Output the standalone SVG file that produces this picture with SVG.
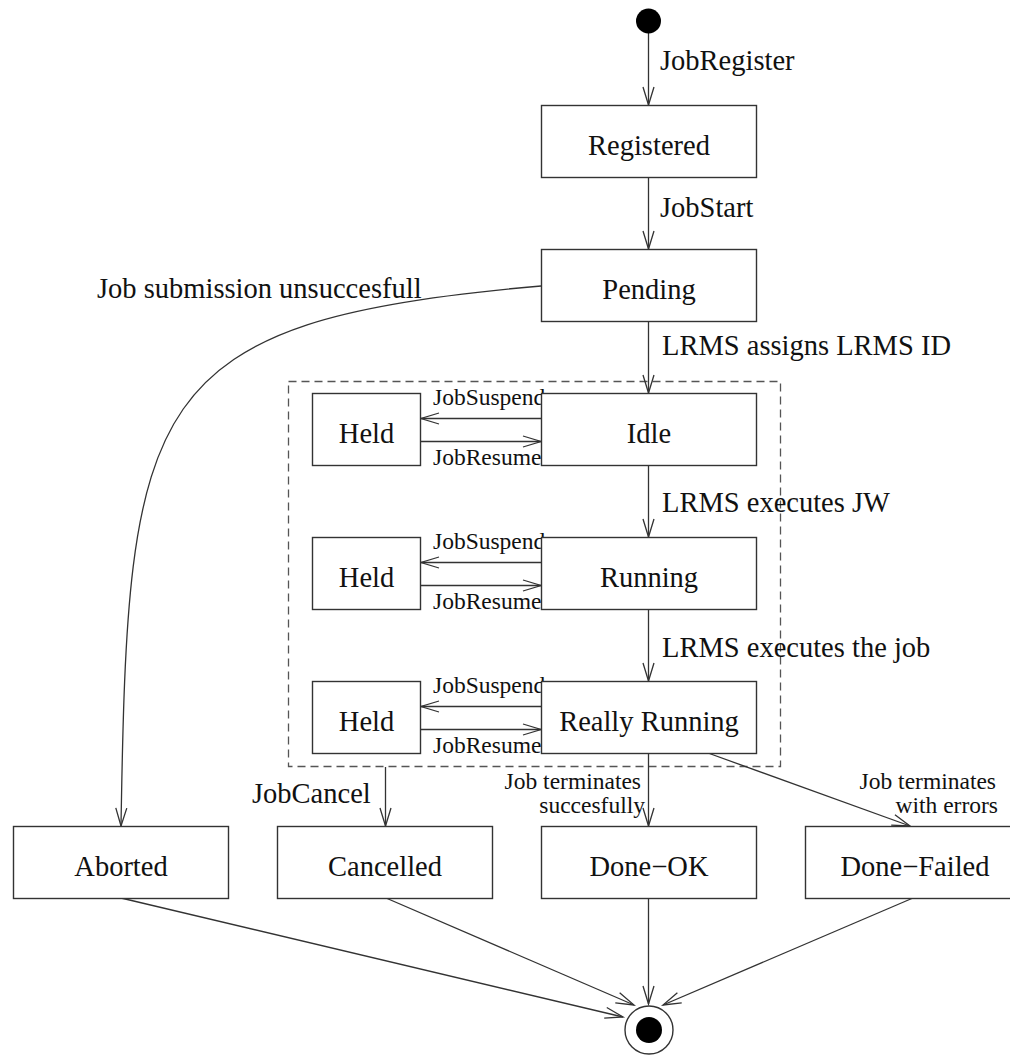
<svg xmlns="http://www.w3.org/2000/svg" width="1010" height="1055" viewBox="0 0 1010 1055">
<style>
  .box { fill: #fff; stroke: #333; stroke-width: 1.4; }
  .lbl { font-family: "Liberation Serif", "Times New Roman", serif; font-size: 28.5px; fill: #111; }
  .sm { font-family: "Liberation Serif", "Times New Roman", serif; font-size: 23.5px; fill: #111; }
  .mid { text-anchor: middle; }
  .end { text-anchor: end; }
  .edge { fill: none; stroke: #333; stroke-width: 1.3; marker-end: url(#arr); }
  .frame { fill: none; stroke: #555; stroke-width: 1.3; stroke-dasharray: 8 5; }
</style>
<defs>
  <marker id="arr" markerUnits="userSpaceOnUse" markerWidth="22" markerHeight="16" refX="19" refY="7" orient="auto">
    <path d="M1,1.5 L19,7 L1,12.5" fill="none" stroke="#333" stroke-width="1.3"/>
  </marker>
</defs>
<rect width="1010" height="1055" fill="#fff"/>

<g id="frame">
  <rect class="frame" x="288.5" y="381.5" width="492" height="385"/>
</g>

<g id="connectors">
  <line class="edge" x1="648.5" y1="33" x2="648.5" y2="105"/>
  <line class="edge" x1="648.5" y1="177" x2="648.5" y2="249"/>
  <line class="edge" x1="648.5" y1="321" x2="648.5" y2="393"/>
  <line class="edge" x1="648.5" y1="465" x2="648.5" y2="537"/>
  <line class="edge" x1="648.5" y1="609" x2="648.5" y2="681"/>
  <line class="edge" x1="648.5" y1="753" x2="648.5" y2="826"/>
  <line class="edge" x1="708" y1="753" x2="910" y2="826"/>
  <path class="edge" d="M541,286 C140,320 128,400 121,826"/>
  <line class="edge" x1="385.5" y1="767" x2="385.5" y2="826"/>
  <!-- held loops -->
  <line class="edge" x1="541" y1="418.5" x2="421" y2="418.5"/>
  <line class="edge" x1="421" y1="441.5" x2="541" y2="441.5"/>
  <line class="edge" x1="541" y1="562.5" x2="421" y2="562.5"/>
  <line class="edge" x1="421" y1="585.5" x2="541" y2="585.5"/>
  <line class="edge" x1="541" y1="706.5" x2="421" y2="706.5"/>
  <line class="edge" x1="421" y1="729.5" x2="541" y2="729.5"/>
  <!-- to final -->
  <line class="edge" x1="121" y1="898" x2="623" y2="1017"/>
  <line class="edge" x1="386" y1="898" x2="634" y2="1005"/>
  <line class="edge" x1="648.5" y1="898" x2="648.5" y2="1004"/>
  <line class="edge" x1="913" y1="898" x2="663" y2="1005"/>
</g>

<g id="labels">
  <text class="lbl" x="660" y="70">JobRegister</text>
  <text class="lbl" x="660" y="217">JobStart</text>
  <text class="lbl" x="97" y="298">Job submission unsuccesfull</text>
  <text class="lbl" x="662" y="355">LRMS assigns LRMS ID</text>
  <text class="lbl" x="662" y="512">LRMS executes JW</text>
  <text class="lbl" x="662" y="657">LRMS executes the job</text>
  <text class="lbl" x="252" y="803">JobCancel</text>
  <text class="sm" x="433" y="405">JobSuspend</text>
  <text class="sm" x="433" y="465">JobResume</text>
  <text class="sm" x="433" y="549">JobSuspend</text>
  <text class="sm" x="433" y="609">JobResume</text>
  <text class="sm" x="433" y="693">JobSuspend</text>
  <text class="sm" x="433" y="753">JobResume</text>
  <text class="sm end" x="641" y="789">Job terminates</text>
  <text class="sm end" x="645" y="813">succesfully</text>
  <text class="sm end" x="996" y="789">Job terminates</text>
  <text class="sm end" x="998" y="813">with errors</text>
</g>

<g id="initial"><circle cx="648.5" cy="21" r="12.5" fill="#000"/></g>
<g id="final">
  <circle cx="649" cy="1030" r="24" fill="#fff" stroke="#333" stroke-width="1.4"/>
  <circle cx="649" cy="1030" r="13" fill="#000"/>
</g>

<g id="registered"><rect class="box" x="541.5" y="105.5" width="215" height="72"/><text class="lbl mid" x="649" y="155">Registered</text></g>
<g id="pending"><rect class="box" x="541.5" y="249.5" width="215" height="72"/><text class="lbl mid" x="649" y="299">Pending</text></g>
<g id="idle"><rect class="box" x="541.5" y="393.5" width="215" height="72"/><text class="lbl mid" x="649" y="443">Idle</text></g>
<g id="running"><rect class="box" x="541.5" y="537.5" width="215" height="72"/><text class="lbl mid" x="649" y="587">Running</text></g>
<g id="reallyrunning"><rect class="box" x="541.5" y="681.5" width="215" height="72"/><text class="lbl mid" x="649" y="731">Really Running</text></g>
<g id="held1"><rect class="box" x="312.5" y="393.5" width="108" height="72"/><text class="lbl mid" x="366.5" y="443">Held</text></g>
<g id="held2"><rect class="box" x="312.5" y="537.5" width="108" height="72"/><text class="lbl mid" x="366.5" y="587">Held</text></g>
<g id="held3"><rect class="box" x="312.5" y="681.5" width="108" height="72"/><text class="lbl mid" x="366.5" y="731">Held</text></g>
<g id="aborted"><rect class="box" x="13.5" y="826.5" width="215" height="72"/><text class="lbl mid" x="121" y="876">Aborted</text></g>
<g id="cancelled"><rect class="box" x="277.5" y="826.5" width="215" height="72"/><text class="lbl mid" x="385" y="876">Cancelled</text></g>
<g id="doneok"><rect class="box" x="541.5" y="826.5" width="215" height="72"/><text class="lbl mid" x="649" y="876">Done−OK</text></g>
<g id="donefailed"><rect class="box" x="805.5" y="826.5" width="215" height="72"/><text class="lbl mid" x="915" y="876">Done−Failed</text></g>
</svg>
